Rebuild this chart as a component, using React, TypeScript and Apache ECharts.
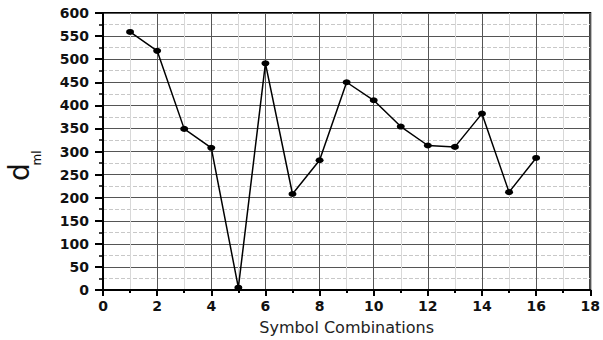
import React, { useEffect, useRef } from "react";
import * as echarts from "echarts";

const xValues = [1, 2, 3, 4, 5, 6, 7, 8, 9, 10, 11, 12, 13, 14, 15, 16];
const dmlValues = [559, 518, 349, 308, 5, 491, 208, 281, 450, 411, 354, 313, 310, 382, 212, 286];
const xAxisTitle = "Symbol Combinations";

export default function App() {
  const ref = useRef<HTMLDivElement>(null);
  useEffect(() => {
    if (!ref.current) return;
    const chart = echarts.init(ref.current, null, { renderer: "svg" });
    const data = xValues.map((x, i) => [x, dmlValues[i]]);
    chart.setOption({
      animation: false,
      backgroundColor: "#fff",
      grid: {
        left: 103,
        right: 10,
        top: 13,
        bottom: 50,
        show: true,
        borderColor: "#000",
        borderWidth: 2,
        containLabel: false,
      },
      xAxis: {
        type: "value",
        min: 0,
        max: 18,
        interval: 2,
        name: xAxisTitle,
        nameLocation: "middle",
        nameGap: 29,
        nameTextStyle: { fontFamily: "DejaVu Sans", fontSize: 16, color: "#222" },
        axisLine: { show: true, onZero: false, lineStyle: { color: "#000", width: 2 } },
        axisTick: { show: true, length: 6, lineStyle: { color: "#000", width: 2 } },
        minorTick: { show: true, splitNumber: 2, length: 3, lineStyle: { color: "#000", width: 2 } },
        axisLabel: { margin: 9, fontFamily: "DejaVu Sans", fontWeight: "bold", fontSize: 14, color: "#111" },
        splitLine: { show: true, lineStyle: { color: "#555", width: 1 } },
        minorSplitLine: { show: true, lineStyle: { color: "#d8d8d8", width: 1 } },
      },
      yAxis: {
        type: "value",
        min: 0,
        max: 600,
        interval: 50,
        axisLine: { show: true, onZero: false, lineStyle: { color: "#000", width: 2 } },
        axisTick: { show: true, length: 8, lineStyle: { color: "#000", width: 2 } },
        minorTick: { show: true, splitNumber: 2, length: 4, lineStyle: { color: "#000", width: 1.5 } },
        axisLabel: { margin: 14, fontFamily: "DejaVu Sans", fontWeight: "bold", fontSize: 14, color: "#111" },
        splitLine: { show: true, lineStyle: { color: "#555", width: 1 } },
        minorSplitLine: { show: true, lineStyle: { color: "#c8c8c8", width: 1, type: "dashed" } },
      },
      graphic: [
        {
          type: "text",
          x: 19,
          y: 172,
          rotation: Math.PI / 2,
          style: {
            text: "d",
            fontFamily: "DejaVu Sans",
            fontSize: 28,
            fill: "#111",
            textAlign: "center",
            textVerticalAlign: "middle",
          },
        },
        {
          type: "text",
          x: 37,
          y: 158,
          rotation: Math.PI / 2,
          style: {
            text: "ml",
            fontFamily: "DejaVu Sans",
            fontSize: 12,
            fill: "#111",
            textAlign: "center",
            textVerticalAlign: "middle",
          },
        },
      ],
      series: [
        {
          type: "line",
          data,
          symbol: "circle",
          symbolSize: [8, 6],
          itemStyle: { color: "#000" },
          lineStyle: { color: "#000", width: 1.5 },
        },
      ],
    });
    return () => chart.dispose();
  }, []);
  return (
    <div
      ref={ref}
      style={{ position: "fixed", left: 0, top: 0, width: 603, height: 340 }}
    />
  );
}
